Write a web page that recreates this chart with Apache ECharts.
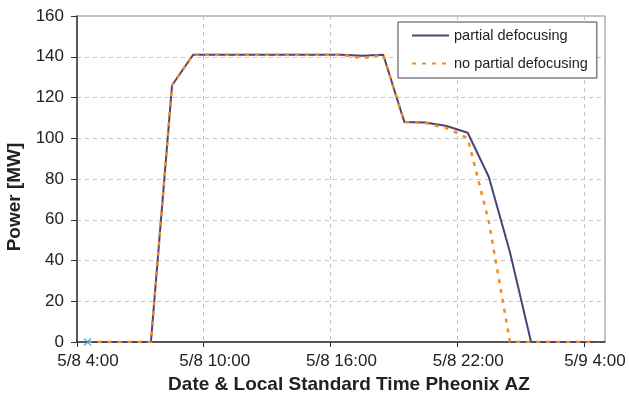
<!DOCTYPE html>
<html>
<head>
<meta charset="utf-8">
<script src="https://cdn.jsdelivr.net/npm/echarts@6/dist/echarts.min.js"></script>
<style>
html,body{margin:0;padding:0;background:#fff;}
#chart{width:629px;height:394px;}
</style>
</head>
<body>
<div id="chart"></div>
<script>
// hours since 5/8 0:00 (24 = 5/9 0:00)
var hours = [4.5, 5.5, 6.5, 7.5, 8.5, 9.5, 10.5, 11.5, 12.5, 13.5, 14.5, 15.5, 16.5,
             17.5, 18.5, 19.5, 20.5, 21.5, 22.5, 23.5, 24.5, 25.5, 26.5, 27.5, 28.5];
var partialDefocusing = [0, 0, 0, 0, 126, 141, 141, 141, 141, 141, 141, 141, 141,
                         140.5, 141, 108, 107.7, 106, 102.7, 81, 44, 0, 0, 0, 0];
var noPartialDefocusing = [0, 0, 0, 0, 126, 141, 141, 141, 141, 141, 141, 141, 141,
                           139.3, 141, 108, 107.5, 105, 100, 59, 0, 0, 0, 0, 0];
var markerX = [4.5];
var markerY = [0];
var xTicks = [4, 10, 16, 22, 28];
var xTickLabels = ['5/8 4:00', '5/8 10:00', '5/8 16:00', '5/8 22:00', '5/9 4:00'];
var legendNames = ['partial defocusing', 'no partial defocusing'];

function zip(xs, ys) { return xs.map(function (x, i) { return [x, ys[i]]; }); }

var chart = echarts.init(document.getElementById('chart'));
var font = 'Liberation Sans, Arial, sans-serif';
chart.setOption({
  animation: false,
  backgroundColor: '#fff',
  grid: {left: 77, right: 24, top: 16, bottom: 52, show: true, borderColor: '#8a8a8a', borderWidth: 1,
         containLabel: false, outerBoundsMode: 'none'},
  legend: {
    data: legendNames,
    orient: 'vertical',
    left: 398, top: 22,
    padding: [6, 9, 7, 13],
    itemGap: 13,
    itemWidth: 37, itemHeight: 14,
    backgroundColor: '#fff',
    borderColor: '#444',
    borderWidth: 1,
    itemStyle: {opacity: 0},
    textStyle: {fontFamily: font, fontSize: 14.5, color: '#222'}
  },
  xAxis: {
    type: 'value', min: 4, max: 29, interval: 6,
    name: 'Date & Local Standard Time Pheonix AZ',
    nameLocation: 'middle', nameGap: 32,
    nameTextStyle: {fontFamily: font, fontSize: 19, fontWeight: 'bold', color: '#222', padding: [0, 0, 0, 16]},
    axisLine: {onZero: false, lineStyle: {color: '#333', width: 1.5}},
    axisTick: {show: true, inside: false, length: 5, lineStyle: {color: '#333'}},
    axisLabel: {
      fontFamily: font, fontSize: 17, color: '#222', margin: 11, padding: [0, 0, 0, 22],
      showMaxLabel: false,
      formatter: function (v) { var i = xTicks.indexOf(v); return i >= 0 ? xTickLabels[i] : ''; }
    },
    splitLine: {show: true, lineStyle: {color: '#c4c4c4', type: [4, 4], width: 1}}
  },
  yAxis: {
    type: 'value', min: 0, max: 160, interval: 20,
    name: 'Power [MW]',
    nameLocation: 'middle', nameGap: 46, nameRotate: 90,
    nameTextStyle: {fontFamily: font, fontSize: 19, fontWeight: 'bold', color: '#222', padding: [0, 36, 0, 0]},
    axisLine: {show: true, lineStyle: {color: '#333', width: 1.5}},
    axisTick: {show: true, inside: false, length: 6, lineStyle: {color: '#333'}},
    axisLabel: {fontFamily: font, fontSize: 17, color: '#222', margin: 13},
    splitLine: {show: true, lineStyle: {color: '#c4c4c4', type: [4, 4], width: 1}}
  },
  series: [
    {
      name: legendNames[0], type: 'line', data: zip(hours, partialDefocusing),
      symbol: 'none', z: 3,
      lineStyle: {color: '#47467a', width: 2},
      itemStyle: {color: '#47467a'}
    },
    {
      name: legendNames[1], type: 'line', data: zip(hours, noPartialDefocusing),
      symbol: 'none', z: 4,
      lineStyle: {color: '#f7871e', width: 2.5, type: [4, 6]},
      itemStyle: {color: '#f7871e'}
    },
    {
      name: 'marker', type: 'scatter', data: zip(markerX, markerY),
      symbol: 'path://M0,0L10,10M10,0L0,10', symbolSize: 7, z: 5,
      itemStyle: {color: 'none', borderColor: '#1ea6e0', borderWidth: 1.5}
    }
  ]
});
</script>
</body>
</html>
